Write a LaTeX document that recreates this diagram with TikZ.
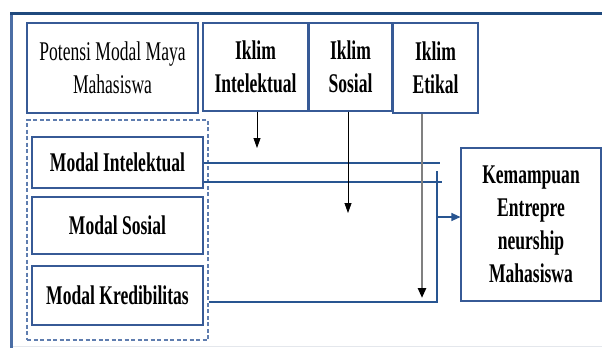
\documentclass[tikz,border=0pt]{standalone}
\usepackage{fontspec}
\newfontfamily\cond[FakeStretch=0.65]{Liberation Serif}
\usetikzlibrary{arrows.meta}
\definecolor{navy}{RGB}{31,73,125}
\definecolor{boxblue}{RGB}{55,90,150}
\definecolor{lineblue}{RGB}{40,85,145}
\definecolor{dashblue}{RGB}{95,125,175}
\definecolor{framel}{RGB}{75,110,165}
\definecolor{bottomgray}{RGB}{228,231,236}
\tikzset{
  box/.style={draw=boxblue, line width=1.1pt, align=center, inner sep=0pt,
    font=\cond\fontsize{27}{33}\selectfont},
  bbox/.style={box, font=\cond\bfseries\fontsize{27}{33}\selectfont},
  dashbox/.style={draw=dashblue, line width=1.1pt, dash pattern=on 4pt off 2.5pt, inner sep=0pt},
  conn/.style={draw=lineblue, line width=1.1pt},
  blk/.style={draw=black, line width=0.8pt, -{Triangle[length=10pt,width=7pt]}},
  gry/.style={draw=black!50, line width=2.6pt, -{Triangle[length=10pt,width=8pt,color=black]}},
  bluearr/.style={conn, -{Triangle[length=9pt,width=8pt]}}
}
\begin{document}
\begin{tikzpicture}[x=1pt,y=-1pt]
\useasboundingbox (0,0) rectangle (602,348);
\fill[white] (0,0) rectangle (602,348);
% frame
\draw[bottomgray, line width=1.5pt] (13,346.5) -- (602,346.5);
\draw[framel, line width=3pt] (11.5,13) -- (11.5,348);
\draw[navy, line width=3.5pt] (10,13.5) -- (602,13.5);
% top row
\node[box, minimum width=171pt, minimum height=90pt] (pot) at (112.5,68) {Potensi Modal Maya\\Mahasiswa};
\node[bbox, minimum width=105pt, minimum height=88pt] (ii) at (255.5,67) {Iklim\\Intelektual};
\node[bbox, minimum width=83pt, minimum height=88pt] (is) at (350.5,67) {Iklim\\Sosial};
\node[bbox, minimum width=85pt, minimum height=90pt] (ie) at (435.5,68) {Iklim\\Etikal};
% group
\node[dashbox, minimum width=181pt, minimum height=220pt] (grp) at (117.5,230) {};
\node[bbox, minimum width=171pt, minimum height=51pt] (mi) at (117.5,162.5) {Modal Intelektual};
\node[bbox, minimum width=171pt, minimum height=57pt] (ms) at (117.5,225.5) {Modal Sosial};
\node[bbox, minimum width=171pt, minimum height=59pt] (mk) at (117.5,295.5) {Modal Kredibilitas};
% result
\node[bbox, minimum width=140pt, minimum height=153pt] (kem) at (531,224.5) {Kemampuan\\Entrepre\\neurship\\Mahasiswa};
% connectors
\coordinate (j1) at (440,163);
\coordinate (j2) at (442,182);
\coordinate (vt) at (437,171);
\coordinate (vb) at (437,302);
\coordinate (va) at (437,217);
\draw[conn] (mi.east |- j1) -- (j1);
\draw[conn] (mi.east |- j2) -- (j2);
\draw[conn] (grp.east |- vb) -- (vb) -- (vt);
\draw[bluearr] (va) -- (kem.west |- va);
% climate arrows
\coordinate (a1) at (257,148);
\coordinate (a2) at (348,213);
\coordinate (a3) at (422,298);
\draw[blk] (a1 |- ii.south) -- (a1);
\draw[blk] (a2 |- is.south) -- (a2);
\draw[gry] (a3 |- ie.south) -- (a3);
\end{tikzpicture}
\end{document}
